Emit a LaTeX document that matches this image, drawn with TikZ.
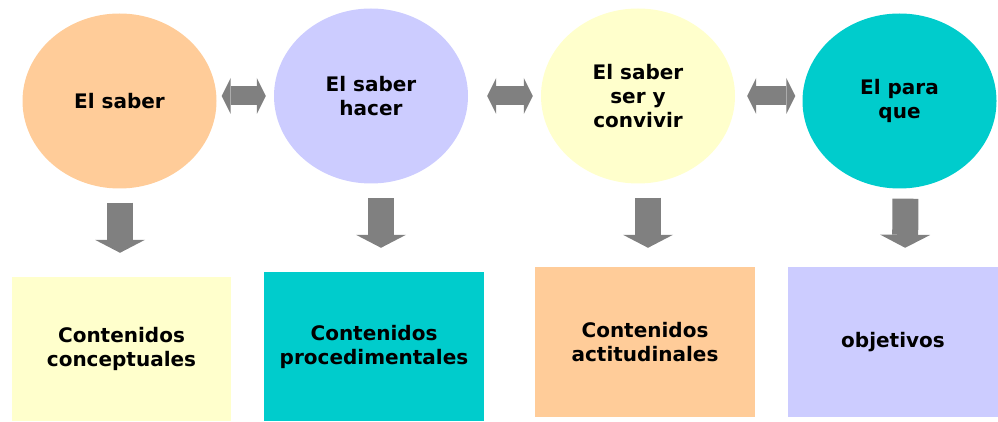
\documentclass[tikz,border=0pt]{standalone}
\usepackage{fontspec}
\setmainfont{DejaVu Sans}
\usetikzlibrary{shapes.geometric,arrows.meta}
\definecolor{durazno}{HTML}{FFCC99}
\definecolor{lila}{HTML}{CCCCFF}
\definecolor{crema}{HTML}{FFFFCC}
\definecolor{turquesa}{HTML}{00CCCC}
\definecolor{gris}{HTML}{808080}
\begin{document}
\begin{tikzpicture}[x=1pt, y=-1pt,
    font=\fontsize{20}{24}\selectfont\bfseries,
    circulo/.style={ellipse, inner sep=0pt, minimum width=194pt, minimum height=175pt, align=center},
    caja/.style={rectangle, inner sep=0pt, minimum width=220pt, minimum height=150pt, align=center},
    flecha/.style={gris, line width=26pt, -{Triangle[width=50pt,length=13pt,line width=0pt]}},
    doble/.style={gris, line width=19pt, {Triangle[width=36pt,length=9pt,line width=0pt]}-{Triangle[width=36pt,length=9pt,line width=0pt]}}]
\useasboundingbox (0,0) rectangle (998,422);

    \node[circulo, fill=durazno] (c1) at (119.5,101) {El saber};
    \node[circulo, fill=lila] (c2) at (371,96) {El saber\\hacer};
    \node[circulo, fill=crema] (c3) at (638,96) {El saber\\ser y\\convivir};
    \node[circulo, fill=turquesa] (c4) at (899.5,101) {El para\\que};

    \node[caja, fill=crema, minimum width=219pt, minimum height=144pt] (b1) at (121.5,349) {Contenidos\\conceptuales};
    \node[caja, fill=turquesa, minimum height=149pt] (b2) at (374,346.5) {Contenidos\\procedimentales};
    \node[caja, fill=durazno] (b3) at (645,342) {Contenidos\\actitudinales};
    \node[caja, fill=lila, minimum width=210pt] (b4) at (893,342) {objetivos};

    \draw[doble, shorten <=5pt, shorten >=8pt] ([yshift=5pt]c1.east) -- (c2.west);
    \draw[doble, shorten <=19pt, shorten >=8pt] (c2.east) -- (c3.west);
    \draw[doble, shorten <=12pt, shorten >=7pt] (c3.east) -- ([yshift=5pt]c4.west);

    \draw[flecha, shorten <=14pt, shorten >=24pt] ([xshift=0.5pt]c1.south) -- ([xshift=-1.5pt]b1.north);
    \draw[flecha, shorten <=14.5pt, shorten >=24pt] ([xshift=10pt]c2.south) -- ([xshift=7pt]b2.north);
    \draw[flecha, shorten <=14pt, shorten >=19pt] ([xshift=10pt]c3.south) -- ([xshift=3pt]b3.north);
    \draw[flecha, shorten <=10pt, shorten >=19pt] ([xshift=6pt]c4.south) -- ([xshift=12pt]b4.north);
\end{tikzpicture}
\end{document}
